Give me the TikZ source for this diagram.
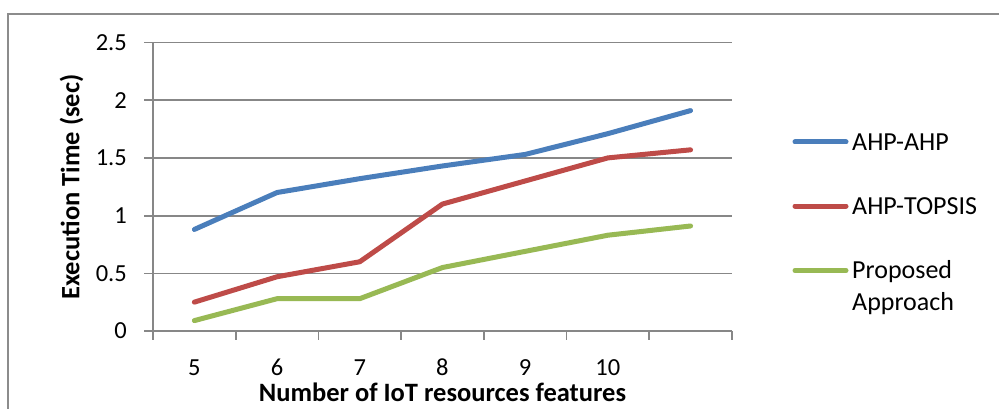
\documentclass[tikz,border=0pt]{standalone}
\usepackage{fontspec}
\setmainfont{Carlito}
\definecolor{gridgray}{HTML}{878787}
\definecolor{framegray}{HTML}{8C8C8C}
\definecolor{sblue}{HTML}{4A7EBB}
\definecolor{sred}{HTML}{BE4B48}
\definecolor{sgreen}{HTML}{98B954}
\begin{document}
\begin{tikzpicture}[x=1pt,y=-1pt,
  grid/.style={draw=gridgray,line width=1.6pt},
  series/.style={line width=5pt,line join=round,line cap=round},
  ticklab/.style={inner sep=0pt,font=\fontsize{24.5}{29}\selectfont},
  legtext/.style={inner sep=0pt,anchor=base west,font=\fontsize{26}{31.7}\selectfont,align=left},
  axtitle/.style={inner sep=0pt,anchor=base,font=\fontsize{26.5}{30}\selectfont\bfseries}]
\useasboundingbox (0,0) rectangle (999,409);
\fill[white] (0,0) rectangle (999,409);
% outer frame
\draw[framegray,line width=1.2pt] (8,409) -- (8,14) -- (999,14);
% gridlines
\foreach \v/\yy in {0/331,0.5/273.3,1/215.7,1.5/158,2/100.3,2.5/42.7}{
  \draw[grid] (144,\yy) -- (732,\yy);
  \node[ticklab,anchor=east] (yl\v) at (127,\yy) {\v};
}
\draw[grid] (153,42.7) -- (153,331);
\foreach \k in {0,...,7}{
  \draw[grid] ({153+\k*82.7},331) -- ({153+\k*82.7},340);
}
\foreach \lab [count=\i from 0] in {5,6,7,8,9,10}{
  \node[ticklab] (xl\lab) at ({194.35+\i*82.7},367.5) {\lab};
}
% data
\begin{scope}[shift={(153,331)},x=82.7pt,y=115.4pt]
\draw[series,sblue] (0.5,0.88) -- (1.5,1.2) -- (2.5,1.32) -- (3.5,1.43) -- (4.5,1.53) -- (5.5,1.71) -- (6.5,1.91);
\draw[series,sred] (0.5,0.25) -- (1.5,0.47) -- (2.5,0.60) -- (3.5,1.10) -- (4.5,1.30) -- (5.5,1.50) -- (6.5,1.57);
\draw[series,sgreen] (0.5,0.09) -- (1.5,0.28) -- (2.5,0.28) -- (3.5,0.55) -- (4.5,0.69) -- (5.5,0.83) -- (6.5,0.91);
\end{scope}
% axis titles
\node[axtitle] (xt) at (442.5,401.7) {Number of IoT resources features};
\node[axtitle,rotate=90] (yt) at (79.3,187) {Execution Time (sec)};
% legend
\draw[series,sblue] (795,142) -- (846,142);
\draw[series,sred] (795,206) -- (846,206);
\draw[series,sgreen] (795,270.5) -- (846,270.5);
\node[legtext] (l1) at (852,150) {AHP-AHP};
\node[legtext] (l2) at (852,214.3) {AHP-TOPSIS};
\node[legtext] (l3) at (852,310) {Proposed\\Approach};
\end{tikzpicture}
\end{document}
